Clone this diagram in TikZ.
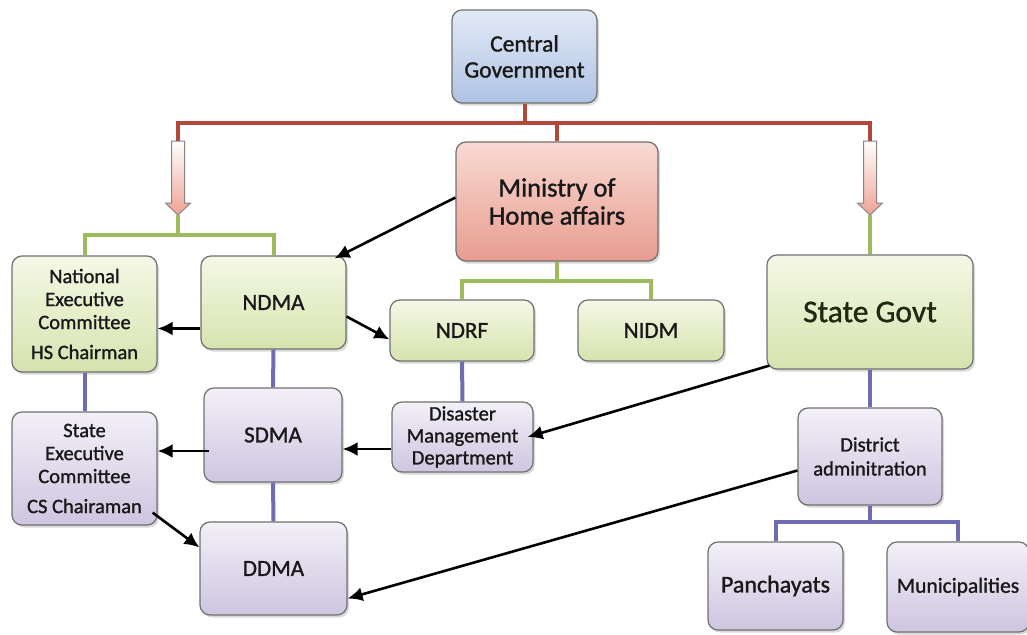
\documentclass[tikz,border=0pt]{standalone}
\usepackage{fontspec}
\setmainfont{Carlito}[FakeBold=1.2]
\usetikzlibrary{arrows.meta,shadows}
\definecolor{boxgray}{HTML}{707070}
\definecolor{btop}{HTML}{E2E9F5}
\definecolor{bbot}{HTML}{AFC3E4}
\definecolor{ptop}{HTML}{F8DAD2}
\definecolor{pbot}{HTML}{E89C90}
\definecolor{gtop}{HTML}{F5F8E6}
\definecolor{gbot}{HTML}{D6E3AE}
\definecolor{vtop}{HTML}{F3F0F8}
\definecolor{vbot}{HTML}{CEC5E0}
\definecolor{redl}{HTML}{B4473A}
\definecolor{greenl}{HTML}{9CBB5A}
\definecolor{violetl}{HTML}{6E6CB2}
\definecolor{fatpink}{HTML}{EFA294}
\definecolor{olivetext}{HTML}{1E2A12}

\begin{document}
\begin{tikzpicture}[x=1pt,y=-1pt,
    box/.style={draw=boxgray,line width=1.2pt,rounded corners=10pt,align=center,inner sep=2pt,
        text=black!90,drop shadow={shadow xshift=2pt,shadow yshift=-2.5pt,opacity=0.3}},
    bluebox/.style={box,top color=btop,bottom color=bbot},
    pinkbox/.style={box,top color=ptop,bottom color=pbot},
    greenbox/.style={box,top color=gtop,bottom color=gbot},
    violetbox/.style={box,top color=vtop,bottom color=vbot},
    redline/.style={draw=redl,line width=4pt},
    greenline/.style={draw=greenl,line width=4pt},
    violetline/.style={draw=violetl,line width=4pt},
    arr/.style={-{Latex[length=15pt,width=14pt]},line width=2.6pt}]
    \useasboundingbox (0,0) rectangle (1027,634);
    \node[bluebox,minimum width=145pt,minimum height=93pt,font=\fontsize{23.5}{26}\selectfont] (cg) at (524.5,56.5) {Central\\Government};
    \node[pinkbox,minimum width=202pt,minimum height=119pt,font=\fontsize{26.5}{28}\selectfont] (mha) at (557,201.5) {Ministry of\\Home affairs};
    \foreach \ax/\nm in {178/larrow,870/rarrow}{
        \shade[top color=white,bottom color=fatpink,draw=boxgray!85,line width=1pt]
            (\ax-6.5,141) -- (\ax+6.5,141) -- (\ax+6.5,203) -- (\ax+12.5,203) -- (\ax,215)
            -- (\ax-12.5,203) -- (\ax-6.5,203) -- cycle;
        \coordinate (\nm-tail) at (\ax,141);
        \coordinate (\nm-tip) at (\ax,215);
    }
    \coordinate (rl) at (178,123);
    \coordinate (rr) at (870,123);
    \node[greenbox,minimum width=145pt,minimum height=116pt,font=\fontsize{20.5}{23}\selectfont] (nec) at (84.5,314) {National\\Executive\\Committee\\[7pt]HS Chairman};
    \node[greenbox,minimum width=145pt,minimum height=93pt,font=\fontsize{23}{26}\selectfont] (ndma) at (273.5,302.5) {NDMA};
    \node[greenbox,minimum width=144pt,minimum height=61pt,font=\fontsize{23}{26}\selectfont] (ndrf) at (462,330.5) {NDRF};
    \node[greenbox,minimum width=146pt,minimum height=61pt,font=\fontsize{23}{26}\selectfont] (nidm) at (651,330.5) {NIDM};
    \node[greenbox,minimum width=206pt,minimum height=114pt,font=\fontsize{31.5}{34}\selectfont,text=olivetext] (sg) at (870,312) {State Govt};
    \node[violetbox,minimum width=145pt,minimum height=113pt,font=\fontsize{20.5}{23}\selectfont] (sec) at (84.5,468.5) {State\\Executive\\Committee\\[7pt]CS Chairaman};
    \node[violetbox,minimum width=138pt,minimum height=94pt,font=\fontsize{23}{26}\selectfont] (sdma) at (273,435) {SDMA};
    \node[violetbox,minimum width=141pt,minimum height=70pt,font=\fontsize{20.5}{22}\selectfont] (dmd) at (462.5,437) {Disaster\\Management\\Department};
    \node[violetbox,minimum width=147pt,minimum height=93pt,font=\fontsize{23}{26}\selectfont] (ddma) at (273.5,568.5) {DDMA};
    \node[violetbox,minimum width=144pt,minimum height=97pt,font=\fontsize{20.5}{24}\selectfont] (da) at (870,456.5) {District\\adminitration};
    \node[violetbox,minimum width=135pt,minimum height=88pt,font=\fontsize{24}{26}\selectfont] (pan) at (775.5,586) {Panchayats};
    \node[violetbox,minimum width=142pt,minimum height=90pt,font=\fontsize{21.5}{24}\selectfont] (mun) at (958,587) {Municipalities};
    \draw[redline] (cg.south) -- (cg.south |- rl);
    \draw[redline] (larrow-tail) -- (rl) -- (rr) -- (rarrow-tail);
    \draw[redline] (mha.north) -- (mha.north |- rl);
    \draw[greenline] (larrow-tip) -- ++(0,21);
    \draw[greenline] (nec.north) -- ++(0,-20) -| (ndma.north);
    \draw[greenline] (mha.south) -- ++(0,21);
    \draw[greenline] (ndrf.north) -- ++(0,-18) -| (nidm.north);
    \draw[greenline] (rarrow-tip) -- (sg.north);
    \draw[violetline] (nec.south) -- (sec.north);
    \draw[violetline] (ndma.south) -- (sdma.north);
    \draw[violetline] (sdma.south) -- (ddma.north);
    \draw[violetline] (ndrf.south) -- (dmd.north);
    \draw[violetline] (sg.south) -- (da.north);
    \draw[violetline] (da.south) -- ++(0,18);
    \draw[violetline] (pan.north) -- ++(0,-19) -| (mun.north);
    \draw[arr] ([yshift=4pt]mha.west) -- ([xshift=-12pt,yshift=-3pt]ndma.north east);
    \draw[arr] ([yshift=-26pt]ndma.west) -- ([yshift=-26pt]ndma.west -| nec.east);
    \draw[arr] ([yshift=-14pt]ndma.east) -- ([yshift=-9pt]ndrf.west);
    \draw[arr] ([xshift=6pt,yshift=-16pt]sdma.west) -- ([yshift=-16pt]sdma.west -| sec.east);
    \draw[arr] ([yshift=-12pt]dmd.west) -- ([yshift=-12pt]dmd.west -| sdma.east);
    \draw[arr] ([xshift=-5pt,yshift=13pt]sec.south east) -- ([yshift=-26pt]ddma.north west);
    \draw[arr] ([xshift=3pt,yshift=4pt]sg.south west) -- ([xshift=-6pt]dmd.east);
    \draw[arr] ([yshift=-14pt]da.west) -- ([yshift=-30pt]ddma.east);
\end{tikzpicture}
\end{document}
